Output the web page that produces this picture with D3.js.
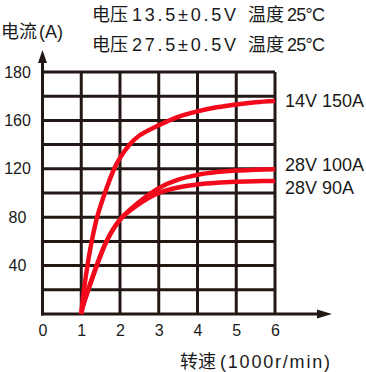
<!DOCTYPE html>
<html>
<head>
<meta charset="utf-8">
<script src="https://cdn.jsdelivr.net/npm/d3@7/dist/d3.min.js"></script>
<style>
  body { margin: 0; background: #fff; }
  text { font-family: "Liberation Sans", "Noto Sans CJK SC", sans-serif; fill: #1a1a1a; }
  .cjk { font-family: "Noto Sans CJK SC", sans-serif; }
</style>
</head>
<body>
<div id="chart"></div>
<script>
// x ticks (1000 r/min) and y ticks (A); the top y tick is printed as 180 in the source
const xTicks = [0, 1, 2, 3, 4, 5, 6];
const yTicks = [40, 80, 120, 160, 200];
const yTickLabels = ["40", "80", "120", "160", "180"];

// curves
const speed14 = [1, 1.07, 1.16, 1.27, 1.41, 1.61, 1.85, 2, 2.25, 2.5, 3, 3.5, 4, 4.5, 5, 5.5, 6];
const amps14 = [0, 20, 40, 60, 80, 100, 120, 129, 140, 147.5, 156, 163, 167.5, 170.8, 173.2, 175, 176];

const speed28 = [1, 1.04, 1.18, 1.4, 1.65, 2, 2.43, 3, 3.5, 4, 4.5, 5, 5.5, 6];
const amps28a = [0, 6, 20, 40, 60, 78, 91, 104, 111, 115, 117.3, 118.6, 119.2, 119.6];
const amps28b = [0, 6, 20, 40, 60, 78, 89.5, 100, 104.5, 107, 108.4, 109.2, 109.7, 110];

const seriesNames = ["14V 150A", "28V 100A", "28V 90A"];

const width = 366, height = 372;
const ink = "#231815", red = "#f20a1c";

const svg = d3.select("#chart").append("svg")
  .attr("width", width).attr("height", height);

const x = d3.scaleLinear().domain([0, 6]).range([42.5, 275]);
const y = d3.scaleLinear().domain([0, 200]).range([314, 72]);

// grid
const gridG = svg.append("g").attr("stroke", ink).attr("stroke-width", 3);
gridG.selectAll("line.h")
  .data(d3.range(20, 201, 20))
  .join("line").attr("class", "h")
  .attr("x1", x(0)).attr("x2", x(6))
  .attr("y1", (d) => y(d)).attr("y2", (d) => y(d));
gridG.selectAll("line.v")
  .data(xTicks.slice(1))
  .join("line").attr("class", "v")
  .attr("x1", (d) => x(d)).attr("x2", (d) => x(d))
  .attr("y1", y(0)).attr("y2", y(200));

// axes with arrows
svg.append("line")
  .attr("x1", x(0)).attr("x2", x(0)).attr("y1", y(0) + 1.5).attr("y2", 60)
  .attr("stroke", ink).attr("stroke-width", 3);
svg.append("path")
  .attr("d", `M${x(0)},50 L${x(0) - 4.5},63 L${x(0) + 4.5},63 Z`)
  .attr("fill", ink);
svg.append("line")
  .attr("x1", x(0) - 1.5).attr("x2", 320).attr("y1", y(0)).attr("y2", y(0))
  .attr("stroke", ink).attr("stroke-width", 3);
svg.append("path")
  .attr("d", `M332,${y(0)} L317,${y(0) - 4.5} L317,${y(0) + 4.5} Z`)
  .attr("fill", ink);

// tick labels
const xAxisG = svg.append("g")
  .attr("transform", `translate(0,${y(0)})`)
  .call(d3.axisBottom(x).tickValues(xTicks).tickSize(0).tickPadding(11).tickFormat(d3.format("d")));
xAxisG.select(".domain").remove();
xAxisG.selectAll("text").attr("font-size", "16px").attr("fill", "#1a1a1a")
  .attr("font-family", "Liberation Sans, sans-serif");

const yAxisG = svg.append("g")
  .attr("transform", `translate(${x(0)},0)`)
  .call(d3.axisLeft(y).tickValues(yTicks).tickSize(0)
    .tickFormat((d, i) => yTickLabels[i]));
yAxisG.select(".domain").remove();
yAxisG.selectAll("text")
  .attr("text-anchor", "middle").attr("x", 17.5 - x(0))
  .attr("font-size", "16px").attr("fill", "#1a1a1a")
  .attr("font-family", "Liberation Sans, sans-serif");

// curves
const line = d3.line()
  .x((d) => x(d[0])).y((d) => y(d[1]))
  .curve(d3.curveCatmullRom.alpha(0.5));
const curves = [
  d3.zip(speed14, amps14),
  d3.zip(speed28, amps28a),
  d3.zip(speed28, amps28b),
];
svg.append("g").selectAll("path")
  .data(curves)
  .join("path")
  .attr("d", line)
  .attr("fill", "none")
  .attr("stroke", red)
  .attr("stroke-width", 4.5);

// curve labels
const labelY = [101, 165, 187.5];
svg.append("g").selectAll("text")
  .data(seriesNames)
  .join("text")
  .attr("x", 285).attr("y", (d, i) => labelY[i])
  .attr("dy", "0.35em")
  .attr("font-size", "18px")
  .text((d) => d);

// header
const headerLines = ["13.5±0.5V", "27.5±0.5V"];
headerLines.forEach((v, i) => {
  const t = svg.append("text").attr("y", 21 + i * 30).attr("font-size", "18px");
  t.append("tspan").attr("class", "cjk").attr("x", 92).text("电压");
  t.append("tspan").attr("x", 132).attr("textLength", 104).attr("lengthAdjust", "spacing").text(v);
  t.append("tspan").attr("class", "cjk").attr("x", 248).text("温度");
  t.append("tspan").attr("x", 287).attr("textLength", 38).attr("lengthAdjust", "spacing").text("25°C");
});

// axis titles
const yTitle = svg.append("text").attr("y", 38).attr("font-size", "18px");
yTitle.append("tspan").attr("class", "cjk").attr("x", 1).text("电流");
yTitle.append("tspan").attr("x", 39).text("(A)");

const xTitle = svg.append("text").attr("y", 368).attr("font-size", "18px");
xTitle.append("tspan").attr("class", "cjk").attr("x", 180).text("转速");
xTitle.append("tspan").attr("x", 220).attr("textLength", 110).attr("lengthAdjust", "spacing").text("(1000r/min)");
</script>
</body>
</html>
